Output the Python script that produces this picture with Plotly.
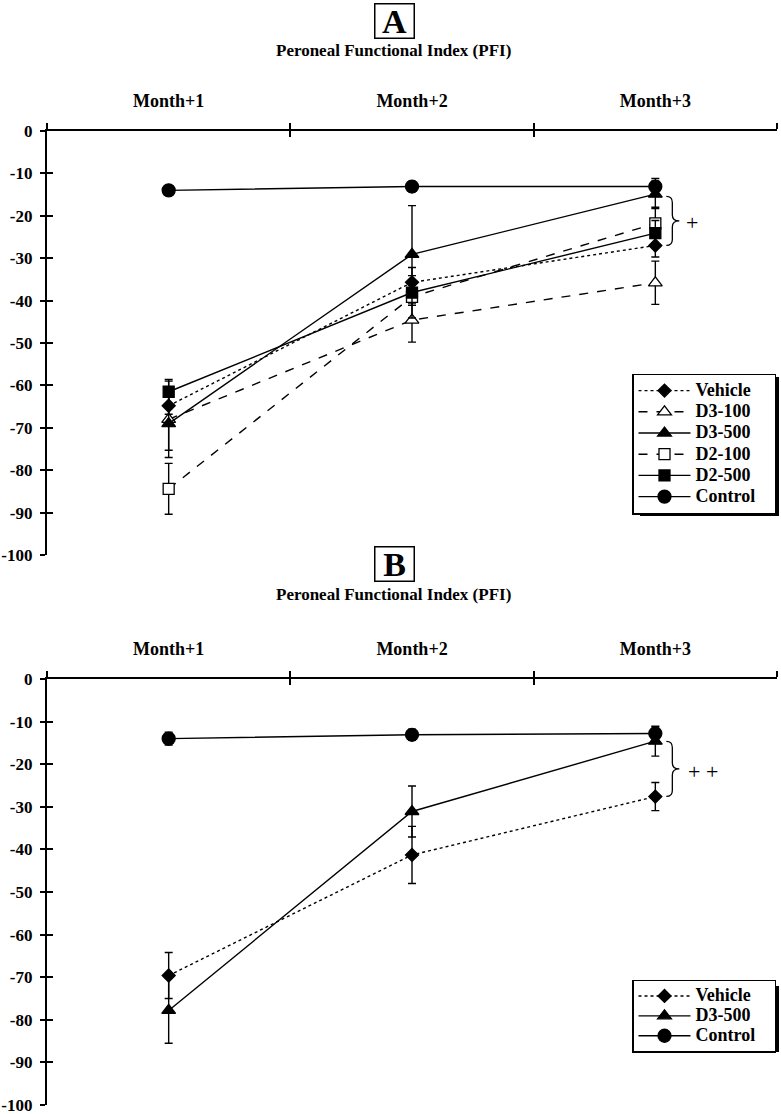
import plotly.graph_objects as go

# ---------------- data ----------------
months = ["Month+1", "Month+2", "Month+3"]
y_ticks = [0, -10, -20, -30, -40, -50, -60, -70, -80, -90, -100]
y_tick_text = ["0", "-10", "-20", "-30", "-40", "-50", "-60", "-70", "-80", "-90", "-100"]

# Panel A
a_vehicle = [-64.8, -35.7, -27.0]
a_vehicle_err = [2.0, 3.5, 2.7]
a_d3_100 = [-68.0, -44.6, -35.8]
a_d3_100_err = [9.0, 5.2, 5.1]
a_d3_500 = [-69.0, -29.1, -14.9]
a_d3_500_err = [6.3, 11.5, 3.1]
a_d2_100 = [-84.4, -39.1, -21.8]
a_d2_100_err = [6.0, 5.0, 3.5]
a_d2_500 = [-61.5, -38.1, -24.1]
a_d2_500_err = [2.9, 3.0, 3.0]
a_control = [-14.0, -13.1, -13.1]
a_control_err = [1.0, 1.2, 1.9]

# Panel B
b_vehicle = [-69.6, -41.3, -27.6]
b_vehicle_err = [5.4, 6.7, 3.3]
b_d3_500 = [-77.8, -31.1, -14.6]
b_d3_500_err = [7.7, 6.0, 3.5]
b_control = [-14.0, -13.1, -12.8]
b_control_err = [1.5, 1.3, 1.5]

xi = [0, 1, 2]
bounds = [-0.5, 0.5, 1.5, 2.5]

SERIF = "Liberation Serif"
W, H = 781, 1114
ML, MR = 47, 4
PW = W - ML - MR


def px_x(p):
    return (p - ML) / PW


def px_y(p):
    return (H - p) / H


fig = go.Figure()

styles = {
    "Vehicle": dict(dash="dot", symbol="diamond", size=10, fill="black"),
    "D3-100": dict(dash="dash", symbol="triangle-up", size=12, fill="white"),
    "D3-500": dict(dash="solid", symbol="triangle-up", size=12, fill="black"),
    "D2-100": dict(dash="dash", symbol="square", size=11, fill="white"),
    "D2-500": dict(dash="solid", symbol="square", size=11, fill="black"),
    "Control": dict(dash="solid", symbol="circle", size=13, fill="black"),
}


def add_series(name, vals, errs, xa, ya, legend):
    s = styles[name]
    fig.add_trace(go.Scatter(
        x=xi, y=vals, name=f'<span style="font-size:18px">{name}&nbsp;&nbsp;&nbsp;</span>',
        mode="lines+markers",
        xaxis=xa, yaxis=ya, legend=legend,
        line=dict(color="black", width=1.4, dash=s["dash"]),
        marker=dict(symbol=s["symbol"], size=s["size"], color=s["fill"],
                    line=dict(color="black", width=1.3)),
        error_y=dict(type="data", array=errs, visible=True, color="black",
                     thickness=1.4, width=4),
        cliponaxis=False,
    ))


add_series("Vehicle", a_vehicle, a_vehicle_err, "x", "y", "legend")
add_series("D3-100", a_d3_100, a_d3_100_err, "x", "y", "legend")
add_series("D3-500", a_d3_500, a_d3_500_err, "x", "y", "legend")
add_series("D2-100", a_d2_100, a_d2_100_err, "x", "y", "legend")
add_series("D2-500", a_d2_500, a_d2_500_err, "x", "y", "legend")
add_series("Control", a_control, a_control_err, "x", "y", "legend")

add_series("Vehicle", b_vehicle, b_vehicle_err, "x2", "y2", "legend2")
add_series("D3-500", b_d3_500, b_d3_500_err, "x2", "y2", "legend2")
add_series("Control", b_control, b_control_err, "x2", "y2", "legend2")

# empty traces for overlay axes (inside tick halves)
for xa, ya in [("x3", "y3"), ("x4", "y4")]:
    fig.add_trace(go.Scatter(x=[None], y=[None], xaxis=xa, yaxis=ya,
                             showlegend=False, hoverinfo="skip"))

domA = [px_y(555), px_y(131)]
domB = [px_y(1105), px_y(679)]

tickfont = dict(family=SERIF, size=17, color="black", weight="bold")
month_font = dict(family=SERIF, size=18, color="black", weight="bold")


def xaxis_main(anchor):
    return dict(anchor=anchor, side="top", range=[-0.5, 2.5], domain=[0, 1],
                tickmode="array", tickvals=xi, ticktext=months, ticks="",
                tickfont=month_font, ticklabelstandoff=15,
                showline=True, linecolor="black", linewidth=2,
                showgrid=False, zeroline=False, fixedrange=True,
                minor=dict(tickmode="array", tickvals=bounds, ticks="outside",
                           ticklen=6, tickwidth=2, tickcolor="black", showgrid=False))


def yaxis_main(anchor, dom):
    return dict(anchor=anchor, domain=dom, range=[-100, 0],
                tickmode="array", tickvals=y_ticks, ticktext=y_tick_text,
                ticks="outside", ticklen=5, tickwidth=2, tickcolor="black",
                tickfont=tickfont, ticklabelstandoff=4, ticklabeloverflow="allow",
                showline=True, linecolor="black", linewidth=2.2,
                showgrid=False, zeroline=False, fixedrange=True)


def xaxis_over(over, anchor):
    return dict(overlaying=over, anchor=anchor, side="top", range=[-0.5, 2.5],
                tickmode="array", tickvals=bounds, ticks="inside", ticklen=6,
                tickwidth=2, tickcolor="black", showticklabels=False,
                showline=False, showgrid=False, zeroline=False)


def yaxis_over(over, anchor):
    return dict(overlaying=over, anchor=anchor, side="left", range=[-100, 0],
                tickmode="array", tickvals=y_ticks, ticks="inside", ticklen=6,
                tickwidth=2, tickcolor="black", showticklabels=False,
                showline=False, showgrid=False, zeroline=False)


def legend_style(size):
    return dict(
        bgcolor="white", bordercolor="black", borderwidth=1.5,
        font=dict(family=SERIF, size=size, color="black", weight="bold"),
        xanchor="right", yanchor="middle", itemwidth=52, tracegroupgap=0,
        traceorder="normal", itemclick=False, itemdoubleclick=False,
    )


fig.update_layout(
    width=W, height=H,
    margin=dict(l=ML, r=MR, t=0, b=0, autoexpand=False),
    paper_bgcolor="white", plot_bgcolor="white",
    xaxis=xaxis_main("y"),
    yaxis=yaxis_main("x", domA),
    xaxis2=xaxis_main("y2"),
    yaxis2=yaxis_main("x2", domB),
    xaxis3=xaxis_over("x", "y"),
    yaxis3=yaxis_over("y", "x"),
    xaxis4=xaxis_over("x2", "y2"),
    yaxis4=yaxis_over("y2", "x2"),
    legend=dict(x=px_x(776), y=px_y(444), **legend_style(14)),
    legend2=dict(x=px_x(776), y=px_y(1016), **legend_style(13)),
    showlegend=True,
)

# legend drop shadows (decoration behind the legend boxes)
for top, bottom in [(374, 513), (983, 1049)]:
    fig.add_shape(type="rect", xref="paper", yref="paper",
                  x0=px_x(640), x1=px_x(779), y0=px_y(bottom + 3), y1=px_y(top + 3),
                  fillcolor="black", line=dict(width=0), layer="above")

# panel titles
for letter, yc, ysub in [("A", 21, 50), ("B", 564, 594)]:
    fig.add_annotation(text=letter, xref="paper", yref="paper",
                       x=px_x(394), y=px_y(yc), showarrow=False,
                       font=dict(family=SERIF, size=34, color="black", weight="bold"),
                       bordercolor="black", borderwidth=1.5, borderpad=0,
                       width=38, height=33,
                       xanchor="center", yanchor="middle")
    fig.add_annotation(text="Peroneal Functional Index (PFI)", xref="paper", yref="paper",
                       x=px_x(393), y=px_y(ysub), showarrow=False,
                       font=dict(family=SERIF, size=17, color="black", weight="bold"),
                       xanchor="center", yanchor="middle")


def brace_path(h):
    return (f"M 11,{h} Q 17,{h} 17,{h - 6} L 17,6 Q 17,0 24,0 "
            f"Q 17,0 17,-6 L 17,{-h + 6} Q 17,{-h} 11,{-h}")


# significance brackets
fig.add_shape(type="path", xref="x", yref="y", xsizemode="pixel", ysizemode="pixel",
              xanchor=2, yanchor=-21.2, path=brace_path(24.5),
              line=dict(color="black", width=1.3))
fig.add_annotation(text="+", xref="x", yref="y", x=2.0, y=-21.5, xshift=37,
                   showarrow=False, font=dict(family=SERIF, size=22, color="black"),
                   xanchor="center", yanchor="middle")
fig.add_shape(type="path", xref="x2", yref="y2", xsizemode="pixel", ysizemode="pixel",
              xanchor=2, yanchor=-21.1, path=brace_path(27.5),
              line=dict(color="black", width=1.3))
fig.add_annotation(text="+ +", xref="x2", yref="y2", x=2.0, y=-21.8, xshift=48,
                   showarrow=False, font=dict(family=SERIF, size=22, color="black"),
                   xanchor="center", yanchor="middle")

fig.write_html("out.html", config={"displayModeBar": False},
               post_script="document.body.style.margin='0px';")
